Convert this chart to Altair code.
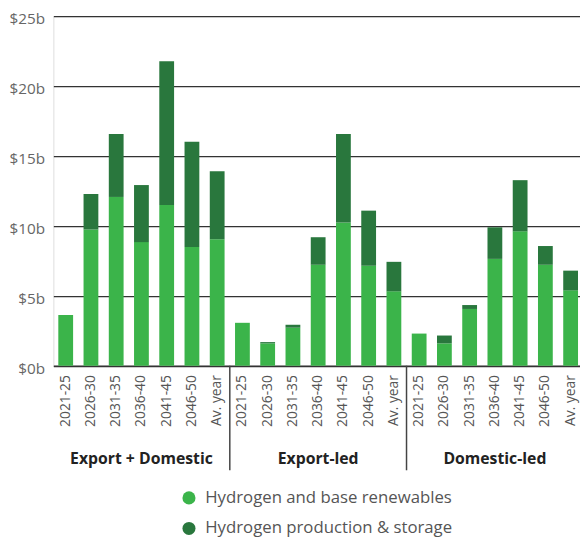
import altair as alt
import pandas as pd

groups = ["Export + Domestic", "Export-led", "Domestic-led"]
periods = ["2021-25", "2026-30", "2031-35", "2036-40", "2041-45", "2046-50", "Av. year"]
series = ["Hydrogen and base renewables", "Hydrogen production & storage"]
colors = ["#3bb44a", "#29773d"]

# $ billions
base_renewables = {
    "Export + Domestic": [3.63, 9.75, 12.07, 8.84, 11.50, 8.49, 9.05],
    "Export-led":        [3.07, 1.60, 2.72, 7.22, 10.25, 7.15, 5.32],
    "Domestic-led":      [2.30, 1.60, 4.06, 7.64, 9.61, 7.22, 5.39],
}
production_storage = {
    "Export + Domestic": [0.00, 2.53, 4.50, 4.08, 10.28, 7.52, 4.85],
    "Export-led":        [0.00, 0.09, 0.21, 1.97, 6.32, 3.94, 2.11],
    "Domestic-led":      [0.00, 0.56, 0.28, 2.26, 3.66, 1.34, 1.41],
}
y_ticks = [0, 5, 10, 15, 20, 25]

keys = [g + "|" + p for g in groups for p in periods]
rows = []
for g in groups:
    for i, p in enumerate(periods):
        k = g + "|" + p
        rows.append({"key": k, "series": series[0], "value": base_renewables[g][i], "ord": 0})
        rows.append({"key": k, "series": series[1], "value": production_storage[g][i], "ord": 1})
df = pd.DataFrame(rows)

FONT = "Open Sans"
TOP = 4.5
W, H = 534, 367 - 8 - TOP

xscale = alt.Scale(paddingInner=0.414, paddingOuter=0.137, align=0.714)

bars = alt.Chart(df).mark_bar().encode(
    x=alt.X("key:N", sort=keys, scale=xscale,
            axis=alt.Axis(title=None, labelExpr="split(datum.label, '|')[1]",
                          labelAngle=270, labelFont=FONT, labelFontSize=14,
                          labelColor="#555", labelPadding=9, ticks=False,
                          domain=True, domainColor="#333", domainWidth=1.5,
                          labelBaseline="middle", labelAlign="right")),
    y=alt.Y("value:Q", stack="zero",
            scale=alt.Scale(domain=[0, 25], nice=False),
            axis=alt.Axis(title=None, values=y_ticks,
                          labelExpr="'$' + datum.value + 'b'",
                          labelFont=FONT, labelFontSize=15.5, labelColor="#666",
                          labelPadding=9, labelOffset=2.5, ticks=False, domain=False,
                          grid=True, gridColor="#333", gridWidth=1.2)),
    color=alt.Color("series:N", scale=alt.Scale(domain=series, range=colors),
                    legend=alt.Legend(orient="none", legendX=129, legendY=480,
                                      title=None, direction="vertical",
                                      symbolType="circle", symbolSize=175,
                                      symbolStrokeWidth=0, symbolOpacity=1,
                                      labelFont=FONT, labelFontSize=17,
                                      labelColor="#555", labelOffset=8,
                                      labelLimit=0, rowPadding=13, padding=0)),
    order=alt.Order("ord:Q", sort="ascending"),
)

sep_df = pd.DataFrame({"key": [keys[7], keys[14]]})
seps = alt.Chart(sep_df).mark_rule(color="#444", strokeWidth=1.5, xOffset=-5.3).encode(
    x=alt.X("key:N", sort=keys, bandPosition=0),
    y=alt.value(H),
    y2=alt.value(473 - 8 - TOP),
)

grp_df = pd.DataFrame({"key": [keys[3], keys[10], keys[17]], "label": groups})
grp = alt.Chart(grp_df).mark_text(font=FONT, fontSize=16, fontWeight="bold",
                                  color="#222", baseline="middle").encode(
    x=alt.X("key:N", sort=keys, bandPosition=0.5),
    y=alt.value(462 - 8 - TOP),
    text="label:N",
)

chart = alt.layer(bars, seps, grp).properties(
    width=W, height=H,
    autosize=alt.AutoSizeParams(type="none"),
    padding={"left": 46, "top": TOP, "right": 0, "bottom": 176},
).configure_view(stroke=None).configure(background="white")

chart.save("out.html", embed_options={"renderer": "svg", "actions": False})
